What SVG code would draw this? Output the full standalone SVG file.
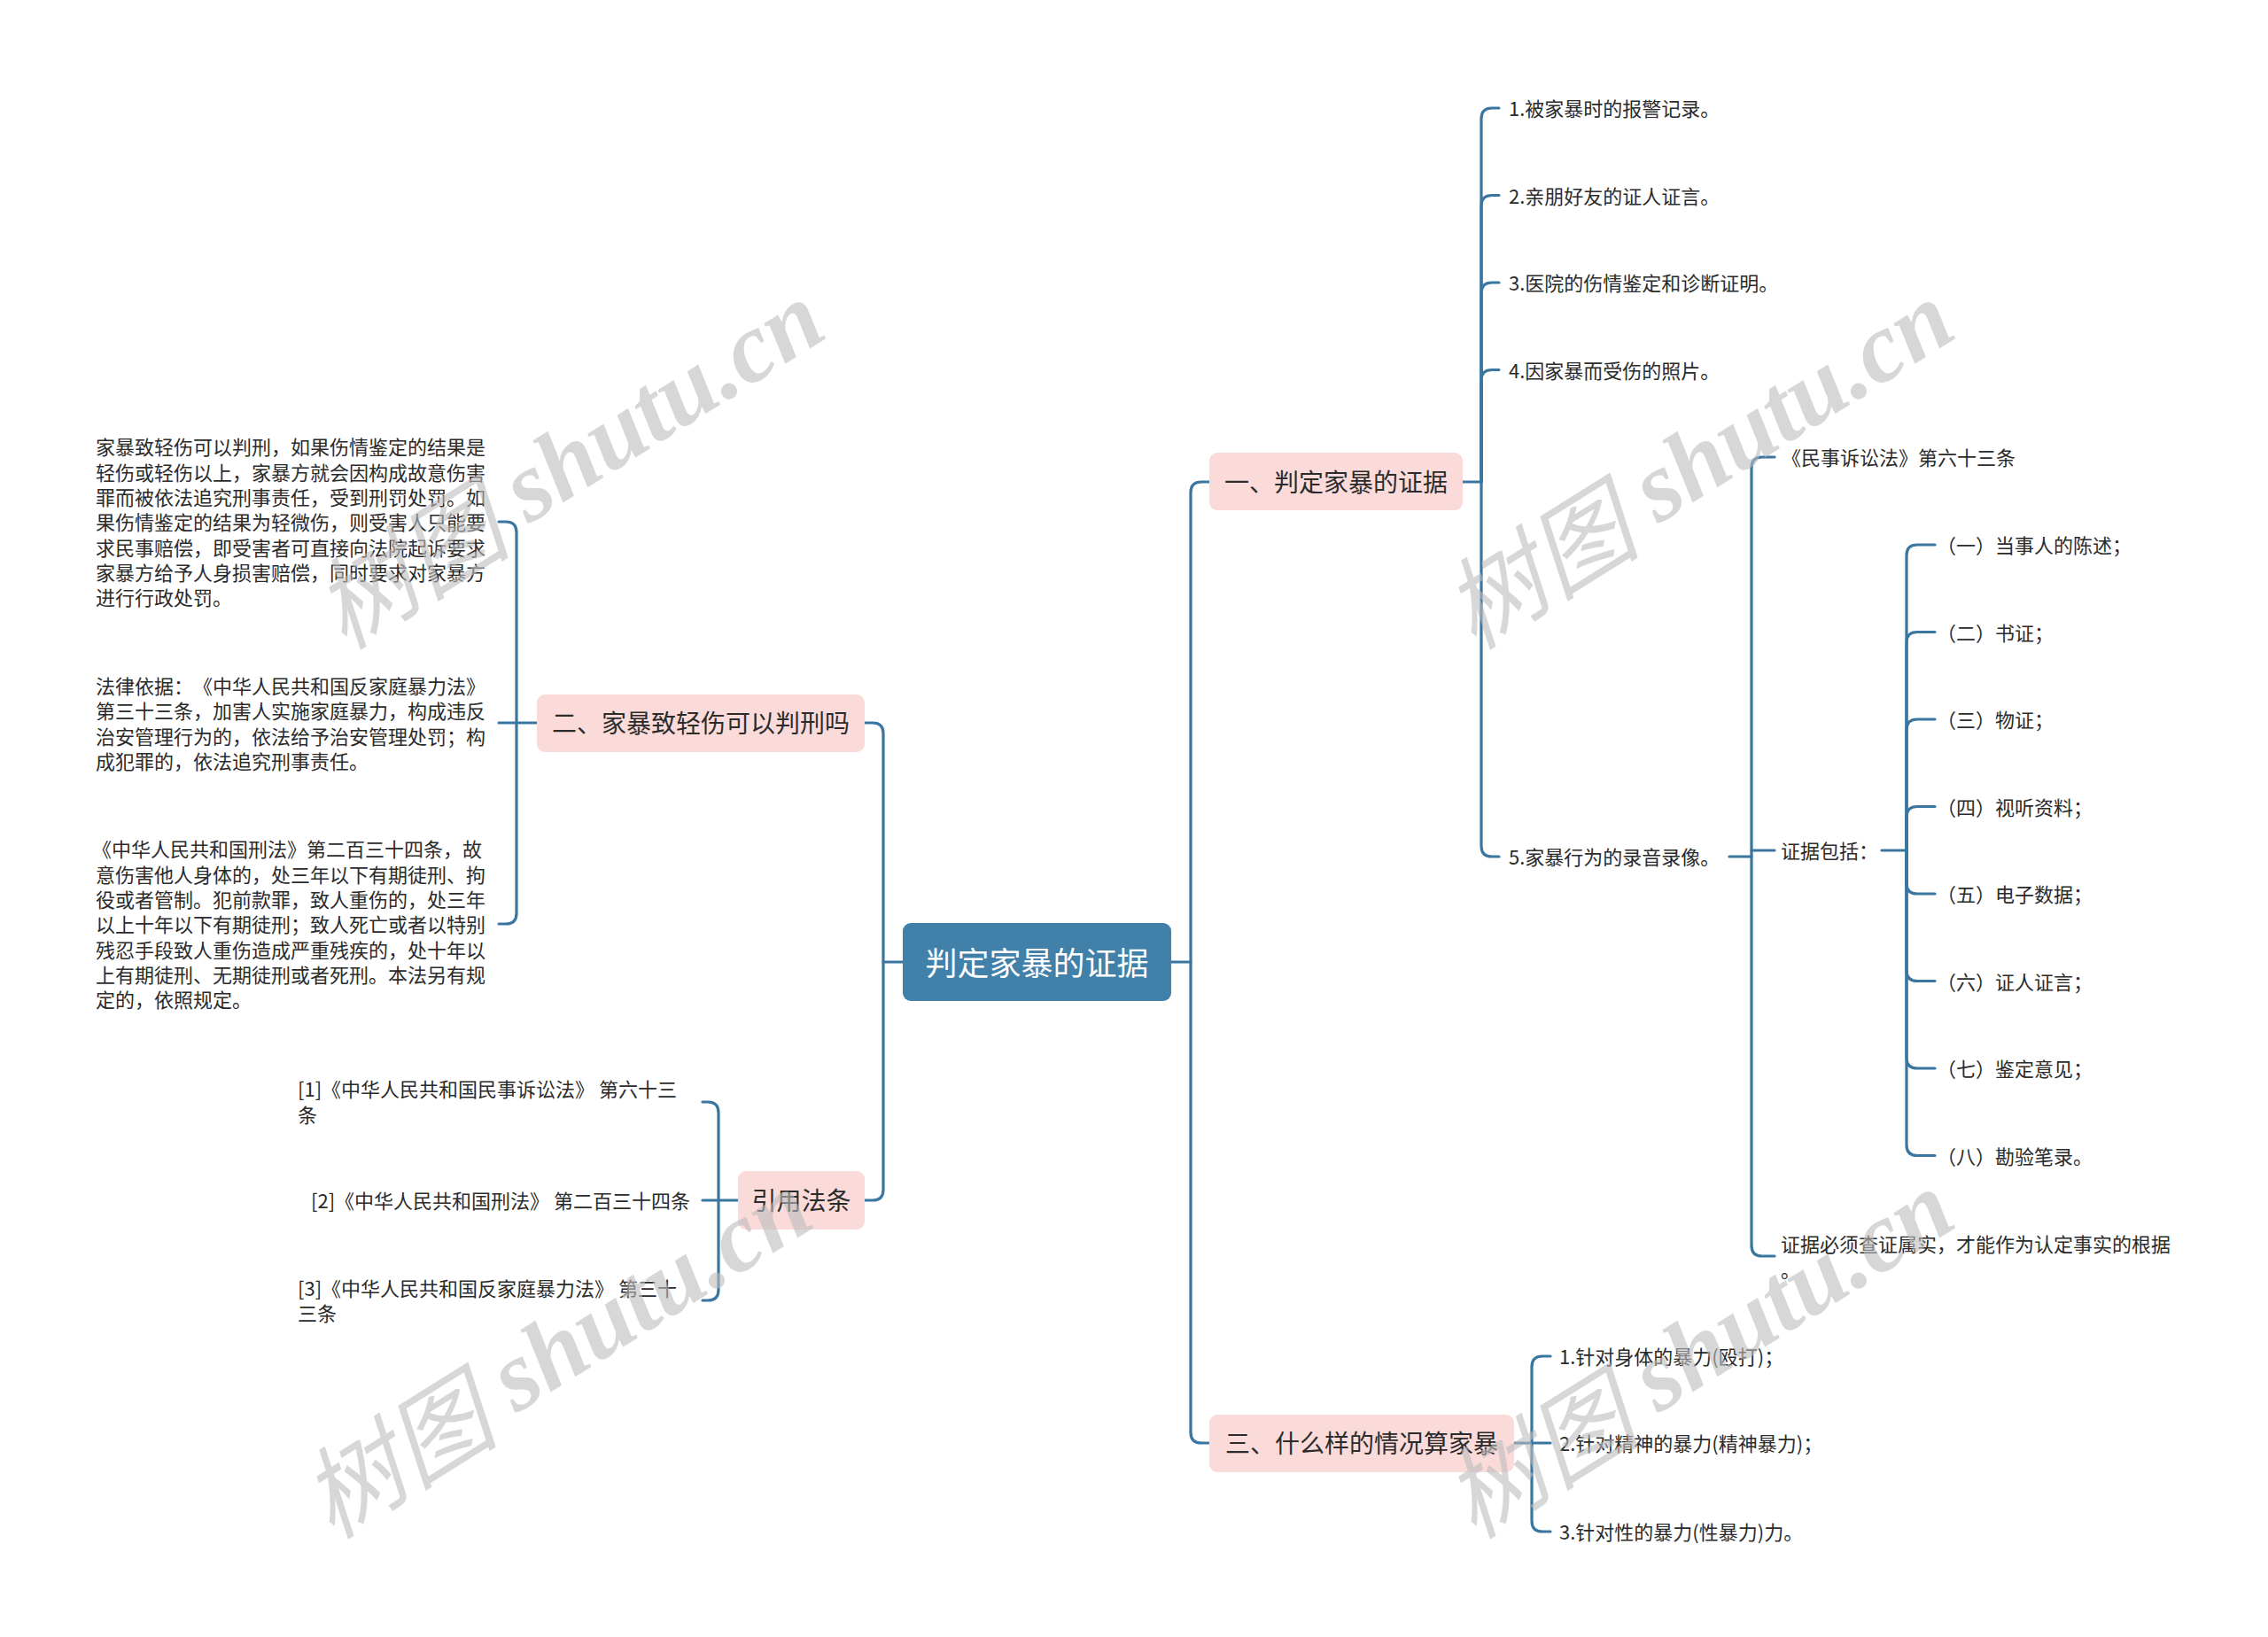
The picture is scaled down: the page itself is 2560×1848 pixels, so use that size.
<svg xmlns="http://www.w3.org/2000/svg" width="2560" height="1848" viewBox="0 0 2560 1848">
<style>
.bg{fill:#ffffff}
.c{fill:none;stroke:#3a76a0;stroke-width:3.2;stroke-linecap:round;stroke-linejoin:round}
.root{fill:#4180a8}
.l1{fill:#fadbda}
.t{font-family:"Noto Sans CJK SC","Microsoft YaHei",sans-serif;fill:#2b2b2b;dominant-baseline:central;text-spacing-trim:space-all}
.rt{font-size:36px;fill:#ffffff;text-anchor:middle}
.h{font-size:28px;text-anchor:middle}
.s{font-size:22px}
.wm{font-family:"Liberation Serif","Noto Sans CJK SC",serif;font-style:italic;font-weight:bold;font-size:112px;fill:#bdbdbd;opacity:0.6;text-anchor:middle;dominant-baseline:central}
.wc{font-family:"Noto Sans CJK SC",sans-serif;font-weight:normal}
</style>
<rect class="bg" x="0" y="0" width="2560" height="1848"/>

<g id="connectors">
  <path class="c" d="M1322,1086 H1344 V556 Q1344,544 1356,544 H1365"/>
  <path class="c" d="M1344,1086 V1617 Q1344,1629 1356,1629 H1365"/>
  <path class="c" d="M1019,1086 H997 V828 Q997,816 985,816 H976"/>
  <path class="c" d="M997,1086 V1343 Q997,1355 985,1355 H976"/>

  <path class="c" d="M1651,544 H1672 V134 Q1672,122 1684,122 H1692"/>
  <path class="c" d="M1672,544 V232.5 Q1672,220.5 1684,220.5 H1692"/>
  <path class="c" d="M1672,544 V331 Q1672,319 1684,319 H1692"/>
  <path class="c" d="M1672,544 V429.5 Q1672,417.5 1684,417.5 H1692"/>
  <path class="c" d="M1672,544 V955 Q1672,967 1684,967 H1692"/>

  <path class="c" d="M1952,967 H1977 V528 Q1977,516 1989,516 H2003"/>
  <path class="c" d="M1977,960 H2003"/>
  <path class="c" d="M1977,967 V1406 Q1977,1418 1989,1418 H2003"/>

  <path class="c" d="M2124,960 H2152 V627 Q2152,615 2164,615 H2184"/>
  <path class="c" d="M2152,960 V725.5 Q2152,713.5 2164,713.5 H2184"/>
  <path class="c" d="M2152,960 V824 Q2152,812 2164,812 H2184"/>
  <path class="c" d="M2152,960 V922.5 Q2152,910.5 2164,910.5 H2184"/>
  <path class="c" d="M2152,960 V997 Q2152,1009 2164,1009 H2184"/>
  <path class="c" d="M2152,960 V1095.5 Q2152,1107.5 2164,1107.5 H2184"/>
  <path class="c" d="M2152,960 V1194 Q2152,1206 2164,1206 H2184"/>
  <path class="c" d="M2152,960 V1292.5 Q2152,1304.5 2164,1304.5 H2184"/>

  <path class="c" d="M1709,1629 H1729 V1543 Q1729,1531 1741,1531 H1750"/>
  <path class="c" d="M1729,1629 H1750"/>
  <path class="c" d="M1729,1629 V1717 Q1729,1729 1741,1729 H1750"/>

  <path class="c" d="M606,816 H583 V601 Q583,589 571,589 H563"/>
  <path class="c" d="M583,816 H563"/>
  <path class="c" d="M583,816 V1031 Q583,1043 571,1043 H563"/>

  <path class="c" d="M833,1355 H811 V1256 Q811,1244 799,1244 H793"/>
  <path class="c" d="M811,1355 H793"/>
  <path class="c" d="M811,1355 V1456 Q811,1468 799,1468 H793"/>
</g>

<g id="root">
  <rect class="root" x="1019" y="1042" width="303" height="88" rx="9"/>
  <text class="t rt" x="1170.5" y="1085">判定家暴的证据</text>
</g>

<g id="n1">
  <rect class="l1" x="1365" y="511" width="286" height="65" rx="9"/>
  <text class="t h" x="1508" y="543">一、判定家暴的证据</text>
</g>
<g id="n2">
  <rect class="l1" x="606" y="784" width="370" height="65" rx="9"/>
  <text class="t h" x="791" y="815">二、家暴致轻伤可以判刑吗</text>
</g>
<g id="n3">
  <rect class="l1" x="833" y="1322" width="143" height="66" rx="9"/>
  <text class="t h" x="904.5" y="1354">引用法条</text>
</g>
<g id="n4">
  <rect class="l1" x="1365" y="1597" width="344" height="65" rx="9"/>
  <text class="t h" x="1537" y="1628">三、什么样的情况算家暴</text>
</g>

<g id="n1-1"><text class="t s" x="1703" y="121">1.被家暴时的报警记录。</text></g>
<g id="n1-2"><text class="t s" x="1703" y="219.5">2.亲朋好友的证人证言。</text></g>
<g id="n1-3"><text class="t s" x="1703" y="318">3.医院的伤情鉴定和诊断证明。</text></g>
<g id="n1-4"><text class="t s" x="1703" y="416.5">4.因家暴而受伤的照片。</text></g>
<g id="n1-5"><text class="t s" x="1703" y="966">5.家暴行为的录音录像。</text></g>

<g id="n1-5-1"><text class="t s" x="2011" y="515">《民事诉讼法》第六十三条</text></g>
<g id="n1-5-2"><text class="t s" x="2010" y="959">证据包括：</text></g>
<g id="n1-5-3"><text class="t s" x="2010" y="1403">证据必须查证属实，才能作为认定事实的根据</text><text class="t s" x="2010" y="1432">。</text></g>

<g id="e1"><text class="t s" x="2186" y="614">（一）当事人的陈述；</text></g>
<g id="e2"><text class="t s" x="2186" y="712.5">（二）书证；</text></g>
<g id="e3"><text class="t s" x="2186" y="811">（三）物证；</text></g>
<g id="e4"><text class="t s" x="2186" y="909.5">（四）视听资料；</text></g>
<g id="e5"><text class="t s" x="2186" y="1008">（五）电子数据；</text></g>
<g id="e6"><text class="t s" x="2186" y="1106.5">（六）证人证言；</text></g>
<g id="e7"><text class="t s" x="2186" y="1205">（七）鉴定意见；</text></g>
<g id="e8"><text class="t s" x="2186" y="1303.5">（八）勘验笔录。</text></g>

<g id="n4-1"><text class="t s" x="1760" y="1530">1.针对身体的暴力(殴打)；</text></g>
<g id="n4-2"><text class="t s" x="1760" y="1628">2.针对精神的暴力(精神暴力)；</text></g>
<g id="n4-3"><text class="t s" x="1760" y="1728">3.针对性的暴力(性暴力)力。</text></g>

<g id="n2-1">
  <text class="t s" x="108" y="503">家暴致轻伤可以判刑，如果伤情鉴定的结果是</text>
  <text class="t s" x="108" y="531.5">轻伤或轻伤以上，家暴方就会因构成故意伤害</text>
  <text class="t s" x="108" y="560">罪而被依法追究刑事责任，受到刑罚处罚。如</text>
  <text class="t s" x="108" y="588">果伤情鉴定的结果为轻微伤，则受害人只能要</text>
  <text class="t s" x="108" y="616.5">求民事赔偿，即受害者可直接向法院起诉要求</text>
  <text class="t s" x="108" y="645">家暴方给予人身损害赔偿，同时要求对家暴方</text>
  <text class="t s" x="108" y="673">进行行政处罚。</text>
</g>
<g id="n2-2">
  <text class="t s" x="108" y="773">法律依据：《中华人民共和国反家庭暴力法》</text>
  <text class="t s" x="108" y="801">第三十三条，加害人实施家庭暴力，构成违反</text>
  <text class="t s" x="108" y="829.5">治安管理行为的，依法给予治安管理处罚；构</text>
  <text class="t s" x="108" y="858">成犯罪的，依法追究刑事责任。</text>
</g>
<g id="n2-3">
  <text class="t s" x="104" y="957">《中华人民共和国刑法》第二百三十四条，故</text>
  <text class="t s" x="108" y="985.5">意伤害他人身体的，处三年以下有期徒刑、拘</text>
  <text class="t s" x="108" y="1014">役或者管制。犯前款罪，致人重伤的，处三年</text>
  <text class="t s" x="108" y="1042">以上十年以下有期徒刑；致人死亡或者以特别</text>
  <text class="t s" x="108" y="1070.5">残忍手段致人重伤造成严重残疾的，处十年以</text>
  <text class="t s" x="108" y="1099">上有期徒刑、无期徒刑或者死刑。本法另有规</text>
  <text class="t s" x="108" y="1127">定的，依照规定。</text>
</g>

<g id="n3-1">
  <text class="t s" x="336" y="1228">[1]《中华人民共和国民事诉讼法》 第六十三</text>
  <text class="t s" x="336" y="1257">条</text>
</g>
<g id="n3-2"><text class="t s" x="565" y="1354" text-anchor="middle">[2]《中华人民共和国刑法》 第二百三十四条</text></g>
<g id="n3-3">
  <text class="t s" x="336" y="1453">[3]《中华人民共和国反家庭暴力法》 第三十</text>
  <text class="t s" x="336" y="1481">三条</text>
</g>

<g id="watermarks">
  <text class="wm" transform="translate(640,520) rotate(-32)"><tspan class="wc">树图</tspan> shutu.cn</text>
  <text class="wm" transform="translate(1915,520) rotate(-32)"><tspan class="wc">树图</tspan> shutu.cn</text>
  <text class="wm" transform="translate(626,1524) rotate(-32)"><tspan class="wc">树图</tspan> shutu.cn</text>
  <text class="wm" transform="translate(1915,1524) rotate(-32)"><tspan class="wc">树图</tspan> shutu.cn</text>
</g>
</svg>
